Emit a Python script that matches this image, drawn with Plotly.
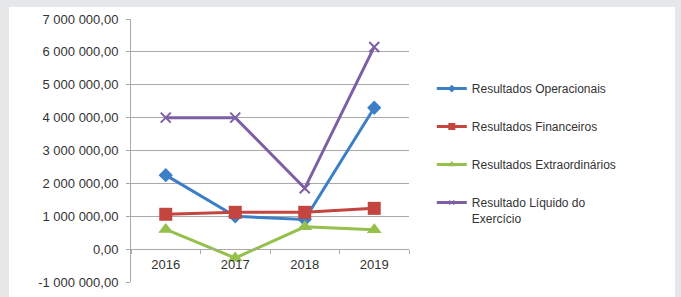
import plotly.graph_objects as go

years = ["2016", "2017", "2018", "2019"]
operacionais = [2250000, 1000000, 900000, 4300000]
financeiros = [1060000, 1120000, 1120000, 1240000]
extraordinarios = [600000, -270000, 680000, 590000]
liquido = [4000000, 4000000, 1850000, 6150000]

series_names = [
    "Resultados Operacionais",
    "Resultados Financeiros",
    "Resultados Extraordinários",
    "Resultado Líquido do<br>Exercício",
]

y_tickvals = [-1000000, 0, 1000000, 2000000, 3000000, 4000000, 5000000, 6000000, 7000000]
y_ticktext = ["-1 000 000,00", "0,00", "1 000 000,00", "2 000 000,00", "3 000 000,00",
              "4 000 000,00", "5 000 000,00", "6 000 000,00", "7 000 000,00"]

colors = ["#3d7fc6", "#c4443f", "#95c04c", "#7d5fa5"]
symbols = ["diamond", "square", "triangle-up", "x-thin-open"]
sizes = [11, 13, 13, 10]
legend_sizes = [6, 7, 7, 5]
values = [operacionais, financeiros, extraordinarios, liquido]

fig = go.Figure()
for i, (name, vals) in enumerate(zip(series_names, values)):
    fig.add_trace(go.Scatter(
        x=years, y=vals, name=name, mode="lines+markers",
        line=dict(color=colors[i], width=3),
        marker=dict(symbol=symbols[i], size=sizes[i], color=colors[i],
                    line=dict(color=colors[i], width=2 if i == 3 else 0)),
        legendgroup=str(i), showlegend=False,
    ))
    # legend entry (smaller marker, as in the original legend)
    fig.add_trace(go.Scatter(
        x=[None], y=[None], name=name, mode="lines+markers",
        line=dict(color=colors[i], width=3),
        marker=dict(symbol=symbols[i], size=legend_sizes[i], color=colors[i],
                    line=dict(color=colors[i], width=1 if i == 3 else 0)),
        legendgroup=str(i), showlegend=True,
    ))

grid = "#a9a9a9"
font = "Liberation Sans, Arial, sans-serif"
fig.update_layout(
    width=681, height=297,
    margin=dict(l=131, r=272, t=19, b=15),
    paper_bgcolor="#e6e7e9",
    plot_bgcolor="white",
    font=dict(family=font, size=12, color="#333333"),
    shapes=[dict(type="rect", xref="paper", yref="paper",
                 x0=-122 / 278, x1=544 / 278, y0=-20 / 263, y1=275 / 263,
                 fillcolor="white", line=dict(width=0), layer="below")],
    xaxis=dict(type="category", range=[-0.5, 3.5], anchor="free", position=0.125,
               showline=True, linecolor=grid, linewidth=1, ticks="outside",
               tickson="boundaries", ticklen=4, tickcolor=grid, showgrid=False,
               ticklabelstandoff=3, automargin=False,
               tickfont=dict(size=13, color="#333333")),
    yaxis=dict(range=[-1000000, 7000000], tickvals=y_tickvals, ticktext=y_ticktext,
               showline=True, linecolor=grid, linewidth=1, ticks="outside",
               ticklen=4, tickcolor=grid, gridcolor=grid, gridwidth=1,
               zeroline=False, ticklabelstandoff=5, automargin=False,
               tickfont=dict(size=13, color="#333333")),
    legend=dict(x=1.082, xanchor="left", y=0.79, yanchor="top",
                tracegroupgap=19, valign="top", bgcolor="rgba(0,0,0,0)",
                font=dict(size=12, color="#333333")),
    showlegend=True,
)

fig.write_html("out.html", config={"displayModeBar": False},
               post_script="document.body.style.margin='0';")
